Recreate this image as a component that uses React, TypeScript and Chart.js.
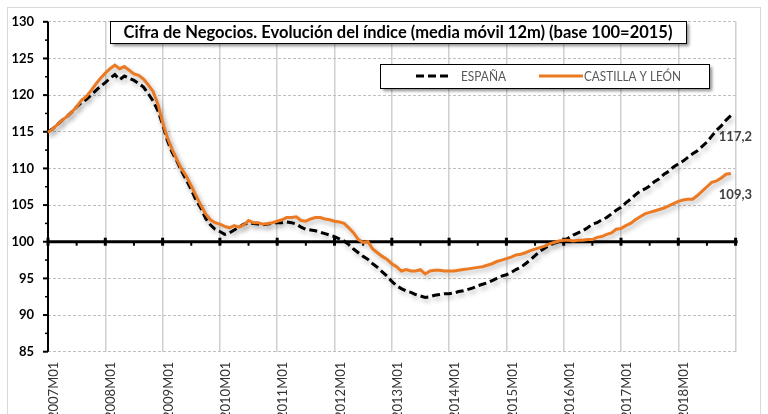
import React, { useEffect, useRef } from 'react';
import { Chart, registerables } from 'chart.js';

Chart.register(...registerables);

const years = ['2007', '2008', '2009', '2010', '2011', '2012', '2013', '2014', '2015', '2016', '2017', '2018'];
const months = ['01', '02', '03', '04', '05', '06', '07', '08', '09', '10', '11', '12'];
// one extra category closes the axis at 2019M01 (no data, no label)
const categories: string[] = [...years.flatMap((y) => months.map((m) => `${y}M${m}`)), '2019M01'];

const titleText = 'Cifra de Negocios. Evolución del índice (media móvil 12m) (base 100=2015)';
const seriesNames = ['ESPAÑA', 'CASTILLA Y LEÓN'];

const espana = [
  115.0, 115.4, 116.0, 116.6, 117.1, 117.7, 118.4, 119.0, 119.4, 120.0, 120.6, 121.2,
  121.7, 122.3, 122.8, 122.1, 122.6, 122.3, 122.0, 121.6, 121.1, 120.2, 119.2, 117.9,
  116.0, 113.8, 112.2, 111.0, 109.6, 108.4, 107.1, 105.7, 104.6, 103.2, 102.3, 101.7,
  101.4, 101.0, 101.2, 101.6, 102.0, 102.4, 102.5, 102.5, 102.4, 102.3, 102.4, 102.5,
  102.6, 102.6, 102.7, 102.6, 102.4, 102.0, 101.7, 101.6, 101.5, 101.3, 101.1, 100.9,
  100.7, 100.4, 100.1, 99.6, 99.0, 98.5, 98.0, 97.6, 97.0, 96.5, 95.9, 95.3,
  94.6, 94.0, 93.6, 93.3, 93.1, 92.8, 92.6, 92.4, 92.5, 92.7, 92.8, 92.9,
  92.9, 93.0, 93.2, 93.3, 93.5, 93.7, 94.0, 94.2, 94.4, 94.7, 95.0, 95.3,
  95.5, 95.8, 96.2, 96.5, 97.0, 97.5, 98.1, 98.7, 99.1, 99.5, 99.8, 100.0,
  100.2, 100.5, 100.9, 101.2, 101.5, 101.9, 102.4, 102.6, 103.0, 103.3, 103.8, 104.3,
  104.7, 105.3, 105.8, 106.4, 106.9, 107.2, 107.6, 108.2, 108.6, 109.2, 109.6, 110.2,
  110.6, 111.0, 111.5, 112.0, 112.4, 113.0, 113.6, 114.4, 115.2, 115.8, 116.6, 117.2,
];

const castilla = [
  114.9, 115.4, 116.0, 116.6, 117.1, 117.7, 118.4, 119.3, 119.8, 120.6, 121.5, 122.3,
  123.0, 123.6, 124.1, 123.6, 123.9, 123.4, 122.9, 122.7, 122.2, 121.4, 120.5, 118.8,
  116.3, 114.2, 112.6, 111.2, 109.9, 108.9, 107.6, 106.3, 105.0, 103.8, 103.0, 102.6,
  102.4, 102.1, 101.9, 102.2, 102.0, 102.3, 102.9, 102.6, 102.6, 102.4, 102.5, 102.6,
  102.8, 103.0, 103.3, 103.3, 103.4, 102.9, 102.8, 103.1, 103.3, 103.3, 103.1, 103.0,
  102.8, 102.7, 102.5, 101.9, 101.2, 100.3, 99.9, 100.0, 99.0, 98.5, 98.0, 97.6,
  97.0, 96.6, 96.0, 96.2, 96.0, 96.0, 96.2, 95.6, 96.0, 96.1, 96.1, 96.0,
  96.0, 96.0, 96.1, 96.2, 96.3, 96.4, 96.5, 96.6, 96.8, 97.0, 97.3, 97.5,
  97.7, 97.9, 98.2, 98.3, 98.5, 98.8, 99.0, 99.2, 99.4, 99.7, 99.9, 100.1,
  100.2, 100.2, 100.1, 100.2, 100.2, 100.3, 100.3, 100.6, 100.7, 101.0, 101.2, 101.7,
  101.8, 102.2, 102.5, 103.0, 103.4, 103.8, 104.0, 104.2, 104.4, 104.6, 104.9, 105.2,
  105.5, 105.7, 105.8, 105.8, 106.3, 106.9, 107.5, 108.1, 108.3, 108.7, 109.2, 109.3,
];

const yTicks = [85, 90, 95, 100, 105, 110, 115, 120, 125, 130];

const ORANGE = '#EC7A23';
const FONT = 'Lato, "Open Sans", sans-serif';

const lineShadow = {
  id: 'lineShadow',
  beforeDatasetDraw(chart: any) {
    const ctx = chart.ctx;
    ctx.save();
    ctx.shadowColor = 'rgba(0,0,0,0.28)';
    ctx.shadowBlur = 5;
    ctx.shadowOffsetX = 2;
    ctx.shadowOffsetY = 3;
  },
  afterDatasetDraw(chart: any) {
    chart.ctx.restore();
  },
};

const decor = {
  id: 'decor',
  beforeDraw(chart: any) {
    const ctx = chart.ctx;
    ctx.save();
    ctx.fillStyle = '#ffffff';
    ctx.fillRect(0, 0, chart.width, chart.height);
    ctx.strokeStyle = '#d9d9d9';
    ctx.lineWidth = 1;
    ctx.strokeRect(7.5, 7.5, 753, 430);
    ctx.restore();
  },
  beforeDatasetsDraw(chart: any) {
    const { ctx, chartArea, scales } = chart;
    const { left, right, top, bottom } = chartArea;
    const x = scales.x;
    const y = scales.y;
    ctx.save();
    ctx.setLineDash([]);
    ctx.strokeStyle = '#000';
    ctx.fillStyle = '#000';
    ctx.lineWidth = 2;
    ctx.beginPath();
    ctx.moveTo(left, top);
    ctx.lineTo(left, bottom);
    ctx.stroke();
    for (let i = 0; i < yTicks.length; i++) {
      const py = y.getPixelForValue(yTicks[i]);
      ctx.fillRect(left - 5, py - 1, 5, 2);
      if (i < yTicks.length - 1) {
        const pm = (py + y.getPixelForValue(yTicks[i + 1])) / 2;
        ctx.fillRect(left - 3, pm - 0.75, 3, 1.5);
      }
    }
    const y100 = y.getPixelForValue(100);
    ctx.lineWidth = 3;
    ctx.beginPath();
    ctx.moveTo(left, y100);
    ctx.lineTo(right + 2, y100);
    ctx.stroke();
    for (let i = 0; i < categories.length; i += 6) {
      const px = x.getPixelForValue(i);
      if (i % 12 === 0) ctx.fillRect(px - 1.5, y100 - 4, 3, 8);
      else ctx.fillRect(px - 1, y100, 2, 4);
    }
    ctx.restore();
  },
  afterDraw(chart: any) {
    const { ctx, scales } = chart;
    const x = scales.x;
    const y = scales.y;
    ctx.save();
    // title box
    const tb = { x: 110, y: 21, w: 576, h: 22 };
    ctx.save();
    ctx.shadowColor = 'rgba(0,0,0,0.45)';
    ctx.shadowBlur = 3;
    ctx.shadowOffsetX = 3;
    ctx.shadowOffsetY = 3;
    ctx.fillStyle = '#fff';
    ctx.fillRect(tb.x, tb.y, tb.w, tb.h);
    ctx.restore();
    ctx.strokeStyle = '#000';
    ctx.lineWidth = 1;
    ctx.strokeRect(tb.x + 0.5, tb.y + 0.5, tb.w, tb.h);
    ctx.fillStyle = '#000';
    ctx.font = `bold 16.5px ${FONT}`;
    ctx.textAlign = 'center';
    ctx.textBaseline = 'middle';
    ctx.fillText(titleText, tb.x + tb.w / 2, tb.y + tb.h / 2 + 1, 562);

    // legend box
    const lb = { x: 380, y: 64, w: 329, h: 24 };
    ctx.save();
    ctx.shadowColor = 'rgba(0,0,0,0.45)';
    ctx.shadowBlur = 3;
    ctx.shadowOffsetX = 3;
    ctx.shadowOffsetY = 3;
    ctx.fillStyle = '#fff';
    ctx.fillRect(lb.x, lb.y, lb.w, lb.h);
    ctx.restore();
    ctx.strokeStyle = '#000';
    ctx.lineWidth = 1;
    ctx.strokeRect(lb.x + 0.5, lb.y + 0.5, lb.w, lb.h);
    const ly = lb.y + lb.h / 2;
    ctx.lineWidth = 3;
    ctx.setLineDash([8, 4]);
    ctx.beginPath();
    ctx.moveTo(416, ly);
    ctx.lineTo(452, ly);
    ctx.stroke();
    ctx.setLineDash([]);
    ctx.strokeStyle = ORANGE;
    ctx.beginPath();
    ctx.moveTo(539, ly);
    ctx.lineTo(583, ly);
    ctx.stroke();
    ctx.fillStyle = '#595959';
    ctx.font = `12.5px ${FONT}`;
    ctx.textAlign = 'left';
    ctx.fillText(seriesNames[0], 461, ly + 1, 45);
    ctx.fillText(seriesNames[1], 584, ly + 1, 97);

    // end labels
    ctx.fillStyle = '#404040';
    ctx.font = `bold 13px ${FONT}`;
    const sets = [espana, castilla];
    for (const s of sets) {
      const last = s.length - 1;
      const px = x.getPixelForValue(last);
      const py = y.getPixelForValue(s[last]);
      ctx.fillText(s[last].toFixed(1).replace('.', ','), px - 12, py + 21);
    }
    ctx.restore();
  },
};

export default function App() {
  const ref = useRef<HTMLCanvasElement>(null);
  useEffect(() => {
    if (!ref.current) return;
    const chart = new Chart(ref.current, {
      type: 'line',
      data: {
        labels: categories,
        datasets: [
          {
            label: seriesNames[1],
            data: castilla,
            borderColor: ORANGE,
            borderWidth: 3,
            pointRadius: 0,
            tension: 0,
            order: 0,
          },
          {
            label: seriesNames[0],
            data: espana,
            borderColor: '#000',
            borderWidth: 3,
            borderDash: [8, 4],
            pointRadius: 0,
            tension: 0,
            order: 1,
          },
        ],
      },
      options: {
        animation: false,
        responsive: true,
        maintainAspectRatio: false,
        layout: { padding: { left: 0, top: 16, right: 32.4, bottom: 0 } },
        plugins: { legend: { display: false }, tooltip: { enabled: false }, title: { display: false } },
        scales: {
          x: {
            type: 'category',
            offset: false,
            border: { display: false },
            grid: { display: true, drawTicks: false, color: '#d0d0d0', lineWidth: 1.5 },
            afterBuildTicks: (s: any) => {
              s.ticks = s.ticks.filter((t: any) => t.value % 12 === 0);
            },
            ticks: {
              autoSkip: false,
              maxRotation: 90,
              minRotation: 90,
              padding: 10,
              labelOffset: 6,
              color: '#333333',
              font: { family: FONT, size: 13 },
              callback: (v: any) => (v < categories.length - 1 ? categories[v] : ''),
            },
            afterFit: (s: any) => {
              s.height = 62.3;
              s.paddingLeft = 0;
              s.paddingRight = 0;
            },
          },
          y: {
            min: 85,
            max: 130,
            border: { display: false, dash: [3, 2] },
            grid: { color: '#bfbfbf', lineWidth: 1, drawTicks: false },
            ticks: {
              stepSize: 5,
              padding: 14,
              color: '#000',
              font: { family: FONT, size: 13, weight: 'bold' },
            },
            afterFit: (s: any) => {
              s.width = 48;
            },
          },
        },
      },
      plugins: [decor, lineShadow],
    });
    return () => chart.destroy();
  }, []);
  return (
    <div style={{ position: 'fixed', left: 0, top: 0, width: 768, height: 414, background: '#fff' }}>
      <canvas ref={ref} />
    </div>
  );
}
